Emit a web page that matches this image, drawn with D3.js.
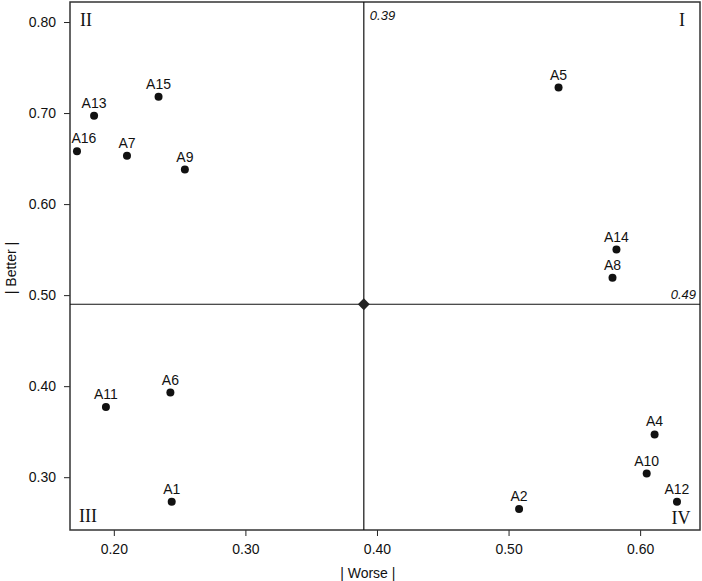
<!DOCTYPE html>
<html lang="en">
<head>
<meta charset="utf-8">
<title>Better-Worse quadrant</title>
<script src="https://d3js.org/d3.v7.min.js"></script>
<style>
  body { margin: 0; background: #fff; }
  svg text { font-family: "Liberation Sans", Arial, sans-serif; fill: #111; }
  .axis path, .axis line { stroke: #222; }
  .axis text { font-size: 14px; }
  .quad { font-family: "Liberation Serif", "Times New Roman", serif !important; font-size: 18px; }
</style>
</head>
<body>
<div id="chart"></div>
<script>
// data
var names  = ["A1","A2","A4","A5","A6","A7","A8","A9","A10","A11","A12","A13","A14","A15","A16"];
var worse  = [0.244,0.508,0.611,0.538,0.243,0.210,0.579,0.254,0.605,0.194,0.628,0.185,0.582,0.234,0.172];
var better = [0.273,0.265,0.347,0.728,0.393,0.653,0.519,0.638,0.304,0.377,0.273,0.697,0.550,0.718,0.658];
var xTicks = [0.20,0.30,0.40,0.50,0.60];
var yTicks = [0.30,0.40,0.50,0.60,0.70,0.80];
var meanWorse = 0.39, meanBetter = 0.49;

var W = 702, H = 581;
var margin = {top: 2, right: 2, bottom: 51, left: 70};
var width = W - margin.left - margin.right,
    height = H - margin.top - margin.bottom;

var svg = d3.select("#chart").append("svg")
    .attr("width", W).attr("height", H);
var g = svg.append("g")
    .attr("transform", "translate(" + margin.left + "," + margin.top + ")");

var x = d3.scaleLinear().domain([0.1667, 0.6455]).range([0, width]);
var y = d3.scaleLinear().domain([0.242, 0.822]).range([height, 0]);

// axes
var xAxis = g.append("g").attr("class", "axis")
    .attr("transform", "translate(0," + height + ")")
    .call(d3.axisBottom(x).tickValues(xTicks).tickFormat(d3.format(".2f")).tickSize(6).tickPadding(8));
var yAxis = g.append("g").attr("class", "axis")
    .call(d3.axisLeft(y).tickValues(yTicks).tickFormat(d3.format(".2f")).tickSize(6).tickPadding(8));
xAxis.select(".domain").remove();
yAxis.select(".domain").remove();

// frame
g.append("rect")
    .attr("width", width).attr("height", height)
    .attr("fill", "none").attr("stroke", "#333").attr("stroke-width", 1.5);

// quadrant lines
g.append("line")
    .attr("x1", x(meanWorse)).attr("x2", x(meanWorse))
    .attr("y1", 0).attr("y2", height)
    .attr("stroke", "#111").attr("stroke-width", 1.2);
g.append("line")
    .attr("x1", 0).attr("x2", width)
    .attr("y1", y(meanBetter)).attr("y2", y(meanBetter))
    .attr("stroke", "#111").attr("stroke-width", 1.2);

g.append("path")
    .attr("d", d3.symbol().type(d3.symbolDiamond2).size(90))
    .attr("transform", "translate(" + x(meanWorse) + "," + y(meanBetter) + ")")
    .attr("fill", "#222");

g.append("text")
    .attr("x", x(meanWorse) + 6).attr("y", 18)
    .style("font-size", "13px").style("font-style", "italic")
    .text(meanWorse.toFixed(2));
g.append("text")
    .attr("x", width - 4).attr("y", y(meanBetter) - 5)
    .attr("text-anchor", "end")
    .style("font-size", "13px").style("font-style", "italic")
    .text(meanBetter.toFixed(2));

// quadrant numerals
var quads = [["II", 16, 24], ["I", width - 18, 24],
             ["III", 18, height - 8], ["IV", width - 19, height - 6]];
g.selectAll(".quad").data(quads).enter().append("text")
    .attr("class", "quad")
    .attr("x", function(d){ return d[1]; })
    .attr("y", function(d){ return d[2]; })
    .attr("text-anchor", "middle")
    .text(function(d){ return d[0]; });

// points
var pts = names.map(function(n, i){ return {name: n, w: worse[i], b: better[i]}; });
g.selectAll("circle.pt").data(pts).enter().append("circle")
    .attr("class", "pt")
    .attr("cx", function(d){ return x(d.w); })
    .attr("cy", function(d){ return y(d.b); })
    .attr("r", 4)
    .attr("fill", "#111");
g.selectAll("text.lbl").data(pts).enter().append("text")
    .attr("class", "lbl")
    .attr("x", function(d){ return x(d.w) + (d.name == "A16" ? 7 : 0); })
    .attr("y", function(d){ return y(d.b) - 8; })
    .attr("text-anchor", "middle")
    .style("font-size", "14px")
    .text(function(d){ return d.name; });

// axis titles
svg.append("text")
    .attr("x", margin.left + x(0.39) + 4).attr("y", 578)
    .attr("text-anchor", "middle")
    .style("font-size", "14px")
    .text("| Worse |");
svg.append("text")
    .attr("transform", "translate(16," + 268 + ") rotate(-90)")
    .attr("text-anchor", "middle")
    .style("font-size", "14px")
    .text("| Better |");
</script>
</body>
</html>
